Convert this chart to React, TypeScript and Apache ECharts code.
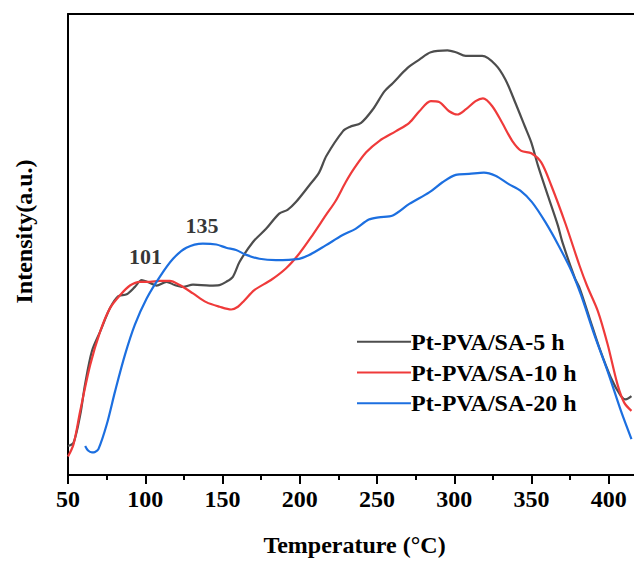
import React, { useEffect, useRef } from "react";
import * as echarts from "echarts";

const seriesNames = ["Pt-PVA/SA-5 h", "Pt-PVA/SA-10 h", "Pt-PVA/SA-20 h"];
const seriesColors = ["#4d4d4d", "#ef3a3a", "#1c6fe0"];

const black5h: [number, number][] = [
  [50, 6.3], [53.6, 7.0], [58, 13.2], [61, 19.6], [65.5, 26.9], [70.8, 31.1], [77.2, 36.2],
  [82.6, 38.8], [88, 39.2], [93.3, 40.8], [97.7, 42.3], [102, 41.8], [107.3, 41.1], [113.8, 41.9],
  [119.1, 41.2], [124.5, 40.8], [130.9, 41.3], [141.7, 41.1], [148, 41.2], [152.4, 41.9],
  [156.7, 43], [161, 46.2], [169.6, 50.5], [178.2, 53.4], [186.7, 56.7], [192.1, 57.5],
  [197.5, 59.2], [206.1, 62.8], [212.5, 65.6], [217.2, 69.2], [228, 74.6], [232.3, 75.5],
  [239.7, 76.4], [247.3, 79.3], [254.8, 83.2], [260.2, 85], [269.8, 88.3], [277.4, 90.1],
  [284.8, 91.7], [295.6, 92.1], [301, 91.7], [307.4, 90.9], [318.1, 90.9], [326.7, 89],
  [333.1, 85.8], [339.6, 80.7], [345.6, 75.7], [349.9, 72.1], [354.2, 67.1], [360.6, 60.6],
  [367.1, 54.1], [370, 50.5], [378.2, 42.6], [381.2, 40.5], [387.6, 34], [394, 27.5],
  [401.4, 21.1], [407.9, 17.1], [411, 16.4], [414.7, 17.1],
];

const red10h: [number, number][] = [
  [50, 4.0], [53.6, 6.7], [57.9, 13.9], [64.4, 23.9], [70.8, 31.1], [77.2, 36.2], [83.7, 39],
  [90.1, 41.1], [96.6, 41.9], [103, 41.9], [109.4, 42.1], [115.9, 42.1], [122.3, 41.2],
  [130.9, 39.4], [139.5, 37.5], [148.1, 36.5], [155.6, 35.9], [160, 36.5], [164, 37.8],
  [170.6, 40.1], [181.4, 42.3], [191, 44.8], [199.6, 48], [208.2, 52], [216.8, 56.3],
  [223.3, 59.5], [229.7, 63.5], [235, 66.4], [243, 70], [251.6, 72.5], [262.3, 74.6],
  [270.9, 76.4], [277.4, 78.9], [284.8, 81.1], [290.2, 80.9], [296.7, 78.9], [302, 78.2],
  [307.4, 79.3], [313.8, 81.1], [318.6, 81.7], [324.6, 80], [331, 76.4], [337.5, 72.5],
  [343.4, 70.3], [349.9, 69.8], [356.3, 67.8], [362.8, 62.8], [372, 54.5], [381, 45.5],
  [386, 41], [393, 35.5], [399.3, 28.3], [405.7, 19.6], [410, 15.7], [414.7, 13.9],
];

const blue20h: [number, number][] = [
  [61.1, 6.3], [63, 5.3], [65.5, 4.9], [67.5, 5.0], [69.7, 5.6], [75.1, 11], [80.5, 18.2],
  [86.9, 26.1], [93.3, 32.6], [100.9, 38.3], [109.4, 43], [118, 46.9], [126.6, 49.3],
  [137.3, 50.2], [146, 50], [152.4, 49.3], [158.8, 48.8], [165, 47.8], [173.9, 46.9],
  [184.6, 46.6], [199.6, 46.9], [206.1, 47.7], [216.8, 49.8], [227.5, 52], [236.1, 53.4],
  [244.7, 55.4], [251.1, 55.9], [260.2, 56.3], [270.9, 58.8], [283.8, 61.3], [292.4, 63.5],
  [301, 65.1], [309.6, 65.3], [319.2, 65.6], [326.7, 64.9], [335.3, 63.1], [342.8, 61.7],
  [350.3, 59.2], [358.9, 54.9], [367.5, 49.8], [376.1, 44.1], [382.1, 39], [390.7, 30.4],
  [399.3, 22.5], [407.9, 13.9], [414.7, 7.8],
];

const peakLabels: [number, number, string][] = [
  [100.1, 47.4, "101"],
  [136.8, 54.1, "135"],
];

const xTicks = [50, 100, 150, 200, 250, 300, 350, 400];

const FONT = "'Liberation Serif', 'Times New Roman', serif";

export default function App() {
  const ref = useRef<HTMLDivElement>(null);
  useEffect(() => {
    if (!ref.current) return;
    const chart = echarts.init(ref.current, undefined, { renderer: "svg" });
    const allData = [black5h, red10h, blue20h];
    const legendTop = 341.7;
    const legendGap = 30.8;
    const graphic: any[] = [];
    seriesNames.forEach((n, i) => {
      const y = legendTop + i * legendGap;
      graphic.push({
        type: "line",
        shape: { x1: 357, y1: y, x2: 411, y2: y },
        style: { stroke: seriesColors[i], lineWidth: 2 },
      });
      graphic.push({
        type: "text",
        x: 411,
        y: y,
        style: {
          text: n,
          fill: "#000",
          font: `bold 24px ${FONT}`,
          verticalAlign: "middle",
          align: "left",
        },
      });
    });
    chart.setOption({
      animation: false,
      backgroundColor: "#fff",
      grid: { left: 68, top: 14, right: 0, bottom: 84 },
      xAxis: [
        {
          type: "value",
          min: 50,
          max: 450,
          interval: 50,
          name: "Temperature (°C)",
          nameLocation: "middle",
          nameGap: 58,
          nameTextStyle: {
            fontFamily: FONT, fontWeight: "bold", fontSize: 24, color: "#000",
            padding: [0, 45, 0, 0],
          },
          axisLine: { show: true, onZero: false, lineStyle: { color: "#000", width: 2 } },
          axisTick: { show: true, inside: false, length: 9, lineStyle: { color: "#000", width: 2 } },
          minorTick: { show: true, splitNumber: 2, length: 5, lineStyle: { color: "#000", width: 2 } },
          splitLine: { show: false },
          axisLabel: {
            fontFamily: FONT,
            fontWeight: "bold",
            fontSize: 24,
            color: "#000",
            margin: 12,
            formatter: (v: number) => (xTicks.includes(v) ? String(v) : ""),
          },
        },
        {
          type: "value",
          position: "top",
          min: 50,
          max: 450,
          axisLine: { show: true, onZero: false, lineStyle: { color: "#000", width: 2 } },
          axisTick: { show: false },
          axisLabel: { show: false },
          splitLine: { show: false },
        },
      ],
      yAxis: {
        type: "value",
        min: 0,
        max: 100,
        name: "Intensity(a.u.)",
        nameLocation: "middle",
        nameGap: 32,
        nameRotate: 90,
        nameTextStyle: {
          fontFamily: FONT, fontWeight: "bold", fontSize: 24, color: "#000",
          padding: [0, 0, 0, 26],
        },
        axisLine: { show: true, onZero: false, lineStyle: { color: "#000", width: 2 } },
        axisTick: { show: false },
        axisLabel: { show: false },
        splitLine: { show: false },
      },
      series: [
        ...allData.map((d, i) => ({
          type: "line",
          name: seriesNames[i],
          data: d,
          smooth: 0.3,
          symbol: "none",
          lineStyle: { color: seriesColors[i], width: 2.2 },
          itemStyle: { color: seriesColors[i] },
        })),
        {
          type: "scatter",
          data: peakLabels,
          symbolSize: 1,
          itemStyle: { color: "rgba(0,0,0,0)" },
          label: {
            show: true,
            position: "inside",
            formatter: (p: any) => p.value[2],
            fontFamily: FONT,
            fontWeight: "bold",
            fontSize: 22,
            color: "#000",
          },
        },
      ],
      graphic,
    });
    return () => chart.dispose();
  }, []);
  return (
    <div
      ref={ref}
      style={{ position: "fixed", left: 0, top: 0, width: 689, height: 562 }}
    />
  );
}
